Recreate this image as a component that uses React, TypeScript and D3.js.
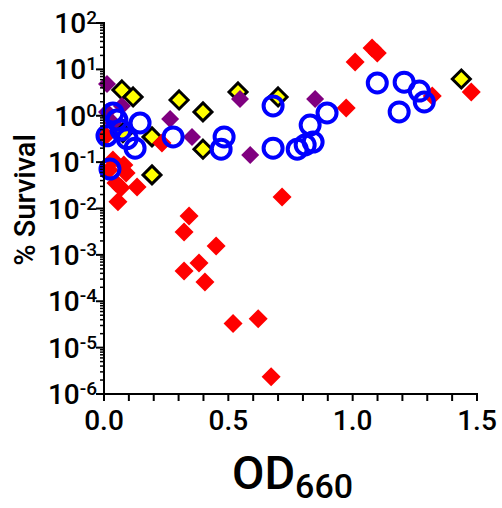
import React from "react";
import * as d3 from "d3";

// OD660 / % survival, one pair of arrays per series
const redOD = [1.078, 1.099, 1.01, 0.974, 1.32, 1.477, 0.716, 0.342, 0.322, 0.451, 0.382, 0.322, 0.406, 0.519, 0.62, 0.672, 0.233, 0.056, 0.133, 0.02, 0.08, 0.089, 0.048, 0.068, 0.036, 0.008];
const redSurv = [28.9, 22.5, 14.4, 1.47, 2.67, 3.26, 0.0178, 0.00693, 0.00313, 0.00156, 0.00067, 0.00045, 0.00026, 0.000033, 0.000042, 0.00000235, 0.26, 0.0139, 0.0292, 0.068, 0.087, 0.058, 0.0356, 0.028, 0.111, 0.37];

const purpleOD = [0.012, 0.012, 0.072, 0.036, 0.266, 0.354, 0.547, 0.588, 0.849];
const purpleSurv = [4.84, 1.21, 1.63, 0.7, 0.85, 0.35, 2.3, 0.143, 2.3];

const yellowOD = [0.072, 0.117, 0.302, 0.398, 0.539, 0.7, 1.437, 0.193, 0.398, 0.193, 0.076];
const yellowSurv = [3.6, 2.54, 2.19, 1.21, 3.26, 2.54, 6.2, 0.35, 0.19, 0.053, 0.43];

const blueOD = [0.036, 0.052, 0.012, 0.068, 0.145, 0.093, 0.125, 0.024, 0.278, 0.483, 0.471, 0.68, 0.68, 0.777, 0.809, 0.841, 0.829, 0.897, 1.099, 1.207, 1.268, 1.288, 1.187];
const blueSurv = [1.15, 0.81, 0.37, 0.49, 0.7, 0.32, 0.2, 0.071, 0.35, 0.35, 0.19, 1.63, 0.2, 0.19, 0.235, 0.27, 0.63, 1.15, 5.1, 5.3, 3.4, 1.98, 1.21];

const yExponents = [-6, -5, -4, -3, -2, -1, 0, 1, 2];
const xTickLabels = ["0.0", "0.5", "1.0", "1.5"];

const W = 502;
const H = 508;
const left = 104, right = 477, top = 23, bottom = 394;
const font = "Roboto, 'Noto Sans', Arial, sans-serif";

const diamond = (r: number) => `M0,${-r}L${r},0L0,${r}L${-r},0Z`;

export default function App() {
  const x = d3.scaleLinear().domain([0, 1.5]).range([left, right]);
  const y = d3.scaleLog().domain([1e-6, 1e2]).range([bottom, top]);

  const minorY: number[] = [];
  yExponents.slice(0, -1).forEach((e) => {
    for (let k = 2; k <= 9; k++) minorY.push(k * Math.pow(10, e));
  });
  const xTicks = d3.range(0, 16).map((i) => i / 10);

  const pts = (xs: number[], ys: number[]) => xs.map((v, i) => [x(v), y(ys[i])]);

  return (
    <svg width={W} height={H} style={{ position: "absolute", left: 0, top: 0 }} fontFamily={font}>
      <rect width={W} height={H} fill="white" />

      {/* markers: yellow, red, purple, then blue circles on top */}
      {pts(yellowOD, yellowSurv).map(([cx, cy], i) => (
        <path key={"y" + i} d={diamond(9)} transform={`translate(${cx},${cy})`} fill="#ffff00" stroke="black" strokeWidth={3} strokeLinejoin="miter" />
      ))}
      {pts(redOD, redSurv).map(([cx, cy], i) => (
        <path key={"r" + i} d={diamond(9.5)} transform={`translate(${cx},${cy})`} fill="#ff0000" />
      ))}
      {pts(purpleOD, purpleSurv).map(([cx, cy], i) => (
        <path key={"p" + i} d={diamond(9)} transform={`translate(${cx},${cy})`} fill="#800080" />
      ))}
      {pts(blueOD, blueSurv).map(([cx, cy], i) => (
        <circle key={"b" + i} cx={cx} cy={cy} r={9.5} fill="none" stroke="#0000ff" strokeWidth={4} />
      ))}

      {/* axes */}
      <line x1={left} x2={left} y1={top - 1} y2={bottom + 1} stroke="black" strokeWidth={2} />
      <line x1={left - 1} x2={right + 1} y1={bottom} y2={bottom} stroke="black" strokeWidth={2} />

      {minorY.map((v, i) => (
        <line key={"my" + i} x1={left - 4} x2={left} y1={y(v)} y2={y(v)} stroke="black" strokeWidth={1.5} />
      ))}
      {yExponents.map((e) => (
        <g key={"ey" + e}>
          <line x1={left - 8} x2={left} y1={y(Math.pow(10, e))} y2={y(Math.pow(10, e))} stroke="black" strokeWidth={2} />
          <text x={97} y={y(Math.pow(10, e)) + 10} textAnchor="end" fontSize={28} fontWeight={500}>
            10
            <tspan dy={-9} fontSize={19}>{e < 0 ? "-" + Math.abs(e) : e}</tspan>
          </text>
        </g>
      ))}

      {xTicks.map((t, i) => (
        <line key={"xt" + i} x1={x(t)} x2={x(t)} y1={bottom} y2={bottom + 7} stroke="black" strokeWidth={2} />
      ))}
      {xTickLabels.map((l) => (
        <text key={l} x={x(+l)} y={430} textAnchor="middle" fontSize={28} fontWeight={500}>{l}</text>
      ))}

      <text x={232} y={489} fontSize={47} fontWeight={500}>
        OD<tspan dy={9} fontSize={34}>660</tspan>
      </text>
      <text transform="translate(35,200) rotate(-90)" textAnchor="middle" fontSize={29} fontWeight={500}>% Survival</text>
    </svg>
  );
}
